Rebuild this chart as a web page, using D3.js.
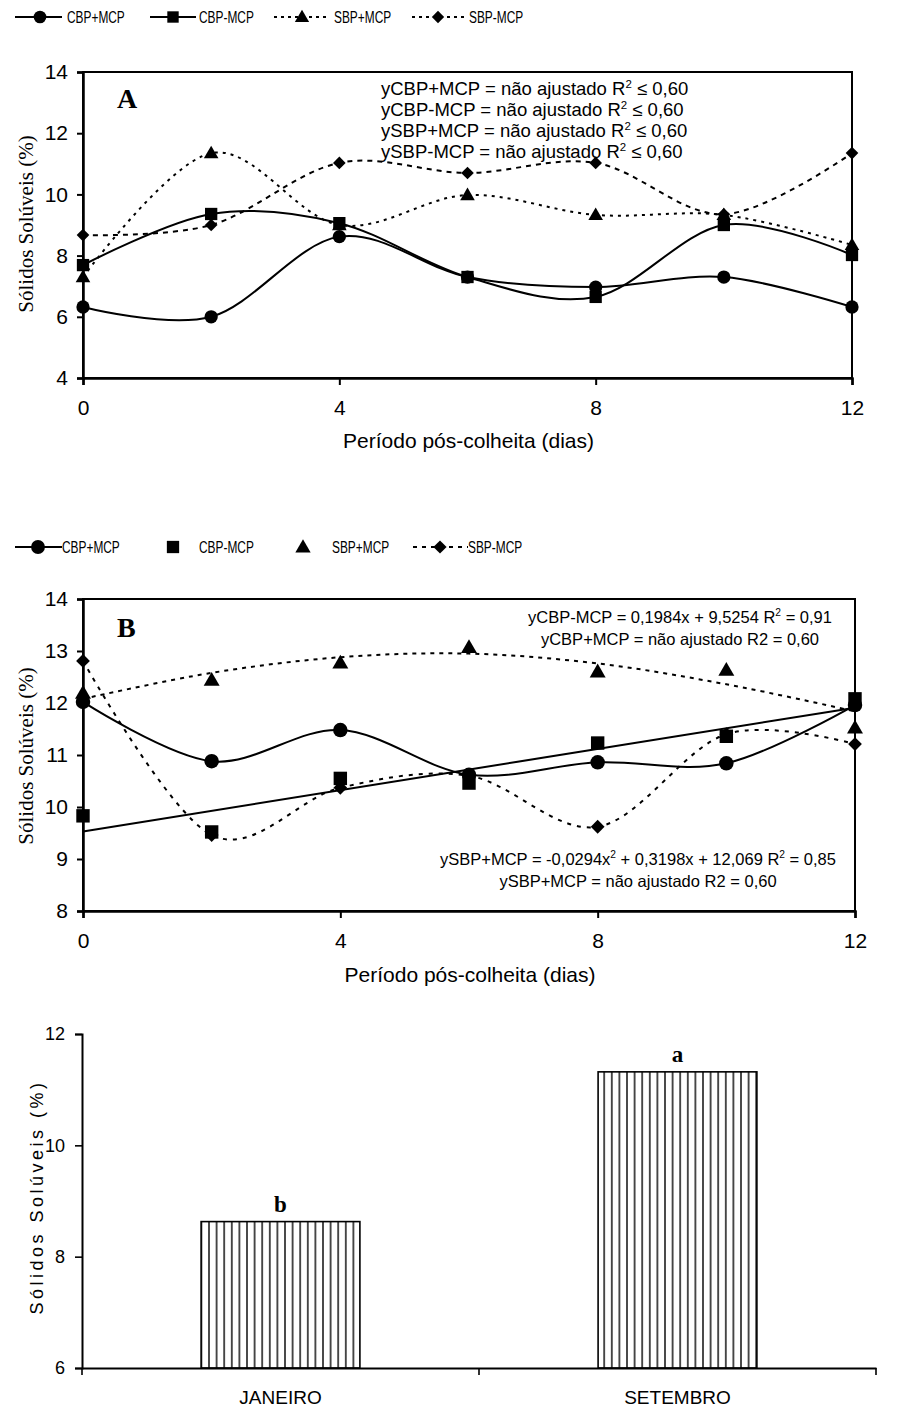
<!DOCTYPE html>
<html>
<head>
<meta charset="utf-8">
<script src="https://cdn.jsdelivr.net/npm/d3@7"></script>
<style>
  body { margin: 0; background: #fff; }
  svg { display: block; }
  text { fill: #000; }
</style>
</head>
<body>
<svg id="plot"></svg>
<script>
const WIDTH = 907;
const HEIGHT = 1410;

const SANS = '"Liberation Sans", Arial, sans-serif';
const SERIF = '"Liberation Serif", "Times New Roman", serif';

// Data
const days = [0, 2, 4, 6, 8, 10, 12];
const seriesNames = ['CBP+MCP', 'CBP-MCP', 'SBP+MCP', 'SBP-MCP'];

// Chart A (janeiro)
const aCbpMais = [6.32, 6.0, 8.62, 7.3, 6.97, 7.3, 6.32];
const aCbpMenos = [7.69, 9.36, 9.06, 7.3, 6.65, 9.0, 8.02];
const aSbpMais = [7.3, 11.35, 9.0, 9.98, 9.33, 9.33, 8.35];
const aSbpMenos = [8.67, 9.0, 11.03, 10.7, 11.03, 9.35, 11.35];
const aYTicks = [4, 6, 8, 10, 12, 14];

// Chart B (setembro)
const bCbpMais = [12.02, 10.88, 11.48, 10.62, 10.86, 10.84, 11.96];
const bCbpMenos = [9.83, 9.52, 10.55, 10.46, 11.23, 11.36, 12.08];
const bSbpMais = [12.19, 12.44, 12.77, 13.07, 12.6, 12.63, 11.52];
const bSbpMenos = [12.81, 9.46, 10.37, 10.6, 9.62, 11.4, 11.21];
const bFitDays = [0, 12];
const bFitCbpMenos = [9.53, 11.91];
const bFitSbpMais = [12.08, 12.58, 12.88, 12.95, 12.76, 12.36, 11.84];
const bYTicks = [8, 9, 10, 11, 12, 13, 14];

const xTicks = [0, 4, 8, 12];

// Bar chart
const months = ['JANEIRO', 'SETEMBRO'];
const monthValues = [8.63, 11.32];
const monthLetters = ['b', 'a'];
const barYTicks = [6, 8, 10, 12];

const xTitle = 'Período pós-colheita (dias)';
const yTitle = 'Sólidos Solúveis (%)';

const aNotes = [
    ['yCBP+MCP = não ajustado R', '2', ' ≤ 0,60'],
    ['yCBP-MCP = não ajustado R', '2', ' ≤ 0,60'],
    ['ySBP+MCP = não ajustado R', '2', ' ≤ 0,60'],
    ['ySBP-MCP = não ajustado R', '2', ' ≤ 0,60'],
];
const bNotesTop = [
    ['yCBP-MCP = 0,1984x + 9,5254 R', '2', ' = 0,91'],
    ['yCBP+MCP = não ajustado R2 = 0,60'],
];
const bNotesBottom = [
    ['ySBP+MCP = -0,0294x', '2', ' + 0,3198x + 12,069 R', '2', ' = 0,85'],
    ['ySBP+MCP = não ajustado R2 = 0,60'],
];

////////////////////////////////////////////////////////////////////////////////
// Helpers
////////////////////////////////////////////////////////////////////////////////

const svg = d3.select('#plot').attr('width', WIDTH).attr('height', HEIGHT);

const markerPath = {
    circle: s => d3.symbol().type(d3.symbolCircle).size(s * 3.3)(),
    square: s => d3.symbol().type(d3.symbolSquare).size(s * 3.6)(),
    triangle: s => d3.symbol().type(d3.symbolTriangle).size(s * 2.2)(),
    diamond: s => d3.symbol().type(d3.symbolSquare).size(s * 1.9)(),
};

function drawMarker(g, type, x, y, s) {
    g.append('path')
        .attr('d', markerPath[type](s))
        .attr('transform', `translate(${x},${y})` + (type === 'diamond' ? ' rotate(45)' : '') +
            (type === 'triangle' ? ' translate(0,1)' : ''))
        .attr('fill', '#000');
}

// multi-part text with superscripts (odd indexes are superscripts)
function noteText(g, parts, x, y, size, anchor) {
    let t = g.append('text')
        .attr('x', x).attr('y', y)
        .attr('font-family', SANS)
        .attr('font-size', size)
        .attr('text-anchor', anchor);
    parts.forEach((p, i) => {
        let ts = t.append('tspan').text(p);
        if (i % 2 === 1) {
            ts.attr('font-size', size * 0.62).attr('dy', -size * 0.4);
        } else if (i > 0) {
            ts.attr('dy', size * 0.4);
        }
    });
}

function legend(y, items) {
    let g = svg.append('g');
    items.forEach(it => {
        if (it.line) {
            g.append('line')
                .attr('x1', it.x1).attr('x2', it.x2)
                .attr('y1', y).attr('y2', y)
                .attr('stroke', '#000')
                .attr('stroke-width', 2)
                .attr('stroke-dasharray', it.dash || null);
        }
        drawMarker(g, it.marker, it.mx, y, it.size);
        // the original legend uses a condensed face
        g.append('text')
            .attr('transform', `translate(${it.tx},${y + 6}) scale(0.7,1)`)
            .attr('font-family', SANS)
            .attr('font-size', 17)
            .text(it.label);
    });
}

function styleAxis(g, size) {
    g.select('.domain').attr('stroke-width', 2.5);
    g.selectAll('.tick line').attr('stroke-width', 2);
    g.selectAll('.tick text').attr('font-family', SANS).attr('font-size', size).attr('fill', '#000');
}

function lineChart(cfg) {
    let x = d3.scaleLinear().domain([0, 12]).range([cfg.left, cfg.right]);
    let y = d3.scaleLinear().domain(cfg.yDomain).range([cfg.bottom, cfg.top]);
    let g = svg.append('g');

    // frame
    g.append('rect')
        .attr('x', cfg.left).attr('y', cfg.top)
        .attr('width', cfg.right - cfg.left).attr('height', cfg.bottom - cfg.top)
        .attr('fill', 'none').attr('stroke', '#000').attr('stroke-width', 2);

    let line = d3.line()
        .x(d => x(d[0]))
        .y(d => y(d[1]));

    cfg.lines.forEach(l => {
        g.append('path')
            .datum(l.xs.map((d, i) => [d, l.ys[i]]))
            .attr('d', line.curve(l.straight ? d3.curveLinear : d3.curveCardinal.tension(0)))
            .attr('fill', 'none')
            .attr('stroke', '#000')
            .attr('stroke-width', 2)
            .attr('stroke-dasharray', l.dash || null);
    });

    cfg.points.forEach(p => {
        days.forEach((d, i) => drawMarker(g, p.marker, x(d), y(p.ys[i]), cfg.markerSize));
    });

    let ax = g.append('g')
        .attr('transform', `translate(0,${cfg.bottom})`)
        .call(d3.axisBottom(x).tickValues(xTicks).tickFormat(d3.format('d')).tickSize(7).tickPadding(cfg.xPad));
    styleAxis(ax, 21);

    let ay = g.append('g')
        .attr('transform', `translate(${cfg.left},0)`)
        .call(d3.axisLeft(y).tickValues(cfg.yTicks).tickFormat(d3.format('d')).tickSize(6).tickPadding(9));
    styleAxis(ay, 21);

    g.append('text')
        .attr('x', (cfg.left + cfg.right) / 2 + 1)
        .attr('y', cfg.xTitleY)
        .attr('text-anchor', 'middle')
        .attr('font-family', SANS)
        .attr('font-size', 21)
        .text(xTitle);

    g.append('text')
        .attr('transform', `translate(33,${cfg.yTitleY}) rotate(-90)`)
        .attr('text-anchor', 'middle')
        .attr('font-family', SERIF)
        .attr('font-size', 21)
        .text(yTitle);

    g.append('text')
        .attr('x', 117).attr('y', cfg.letterY)
        .attr('font-family', SERIF)
        .attr('font-weight', 'bold')
        .attr('font-size', 28)
        .text(cfg.letter);

    return g;
}

////////////////////////////////////////////////////////////////////////////////
// Chart A
////////////////////////////////////////////////////////////////////////////////

legend(17, [
    { line: true, x1: 15, x2: 62, marker: 'circle', mx: 40, size: 38, tx: 67, label: seriesNames[0] },
    { line: true, x1: 150, x2: 196, marker: 'square', mx: 173, size: 36, tx: 199, label: seriesNames[1] },
    { line: true, x1: 274, x2: 330, dash: '3,4', marker: 'triangle', mx: 302, size: 40, tx: 334, label: seriesNames[2] },
    { line: true, x1: 412, x2: 466, dash: '3,4', marker: 'diamond', mx: 438, size: 40, tx: 469, label: seriesNames[3] },
]);

let chartA = lineChart({
    left: 83, right: 852, top: 72, bottom: 378,
    yDomain: [4, 14], yTicks: aYTicks,
    xPad: 15, xTitleY: 448, yTitleY: 224,
    letter: 'A', letterY: 108, markerSize: 42,
    lines: [
        { xs: days, ys: aCbpMais },
        { xs: days, ys: aCbpMenos },
        { xs: days, ys: aSbpMais, dash: '3,5' },
        { xs: days, ys: aSbpMenos, dash: '5,5' },
    ],
    points: [
        { marker: 'circle', ys: aCbpMais },
        { marker: 'square', ys: aCbpMenos },
        { marker: 'triangle', ys: aSbpMais },
        { marker: 'diamond', ys: aSbpMenos },
    ],
});

aNotes.forEach((n, i) => noteText(chartA, n, 381, 95 + i * 21, 18.5, 'start'));

////////////////////////////////////////////////////////////////////////////////
// Chart B
////////////////////////////////////////////////////////////////////////////////

legend(547, [
    { line: true, x1: 15, x2: 62, marker: 'circle', mx: 38, size: 46, tx: 62, label: seriesNames[0] },
    { line: false, marker: 'square', mx: 173, size: 42, tx: 199, label: seriesNames[1] },
    { line: false, marker: 'triangle', mx: 303, size: 46, tx: 332, label: seriesNames[2] },
    { line: true, x1: 413, x2: 468, dash: '4,5', marker: 'diamond', mx: 440, size: 46, tx: 468, label: seriesNames[3] },
]);

let chartB = lineChart({
    left: 83, right: 855, top: 599, bottom: 911,
    yDomain: [8, 14], yTicks: bYTicks,
    xPad: 15, xTitleY: 982, yTitleY: 756,
    letter: 'B', letterY: 637, markerSize: 50,
    lines: [
        { xs: days, ys: bCbpMais },
        { xs: bFitDays, ys: bFitCbpMenos, straight: true },
        { xs: days, ys: bFitSbpMais, dash: '4,5' },
        { xs: days, ys: bSbpMenos, dash: '4,6' },
    ],
    points: [
        { marker: 'circle', ys: bCbpMais },
        { marker: 'square', ys: bCbpMenos },
        { marker: 'triangle', ys: bSbpMais },
        { marker: 'diamond', ys: bSbpMenos },
    ],
});

bNotesTop.forEach((n, i) => noteText(chartB, n, 680, 623 + i * 22, 16.5, 'middle'));
bNotesBottom.forEach((n, i) => noteText(chartB, n, 638, 865 + i * 22, 16.5, 'middle'));

////////////////////////////////////////////////////////////////////////////////
// Bar chart
////////////////////////////////////////////////////////////////////////////////

const defs = svg.append('defs');
const pat = defs.append('pattern')
    .attr('id', 'vstripes')
    .attr('patternUnits', 'userSpaceOnUse')
    .attr('width', 7.6).attr('height', 10);
pat.append('rect').attr('width', 7.6).attr('height', 10).attr('fill', '#fff');
pat.append('line')
    .attr('x1', 3.8).attr('x2', 3.8).attr('y1', 0).attr('y2', 10)
    .attr('stroke', '#222').attr('stroke-width', 1.6);

const xC = d3.scaleBand().domain(months).range([82, 876]).paddingInner(0.6).paddingOuter(0.3);
const yC = d3.scaleLinear().domain([6, 12]).range([1368, 1034]);

const barG = svg.append('g');

barG.selectAll('rect.bar')
    .data(months)
    .enter().append('rect')
        .attr('class', 'bar')
        .attr('x', d => xC(d))
        .attr('width', xC.bandwidth())
        .attr('y', (d, i) => yC(monthValues[i]))
        .attr('height', (d, i) => yC(6) - yC(monthValues[i]))
        .attr('fill', 'url(#vstripes)')
        .attr('stroke', '#000')
        .attr('stroke-width', 1.6);

barG.selectAll('text.letter')
    .data(months)
    .enter().append('text')
        .attr('class', 'letter')
        .attr('x', d => xC(d) + xC.bandwidth() / 2)
        .attr('y', (d, i) => yC(monthValues[i]) - 10)
        .attr('text-anchor', 'middle')
        .attr('font-family', SERIF)
        .attr('font-weight', 'bold')
        .attr('font-size', 23)
        .text((d, i) => monthLetters[i]);

let axC = barG.append('g')
    .attr('transform', `translate(0,${yC(6)})`)
    .call(d3.axisBottom(xC).tickSize(0).tickPadding(23));
axC.select('.domain').attr('stroke-width', 2);
axC.selectAll('.tick text').attr('font-family', SANS).attr('font-size', 19).attr('fill', '#000');

// category boundary ticks
barG.selectAll('line.bound')
    .data(d3.range(months.length + 1))
    .enter().append('line')
        .attr('class', 'bound')
        .attr('x1', i => xC.range()[0] + i * xC.step())
        .attr('x2', i => xC.range()[0] + i * xC.step())
        .attr('y1', yC(6)).attr('y2', yC(6) + 7)
        .attr('stroke', '#000').attr('stroke-width', 1.6);

let ayC = barG.append('g')
    .attr('transform', 'translate(82,0)')
    .call(d3.axisLeft(yC).tickValues(barYTicks).tickFormat(d3.format('d')).tickSize(7).tickPadding(10));
ayC.select('.domain').attr('stroke-width', 2);
ayC.selectAll('.tick line').attr('stroke-width', 1.6);
ayC.selectAll('.tick text').attr('font-family', SANS).attr('font-size', 18).attr('fill', '#000');

barG.append('text')
    .attr('transform', `translate(43,1197) rotate(-90)`)
    .attr('text-anchor', 'middle')
    .attr('font-family', SANS)
    .attr('font-size', 18)
    .attr('letter-spacing', 3.5)
    .text(yTitle);
</script>
</body>
</html>
